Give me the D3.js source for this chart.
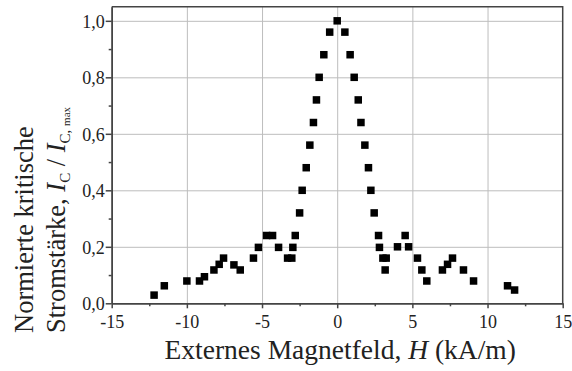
<!DOCTYPE html>
<html>
<head>
<meta charset="utf-8">
<script src="https://cdn.jsdelivr.net/npm/d3@7"></script>
<style>
  body { margin: 0; background: #fff; }
  svg text { font-family: "Liberation Serif", "DejaVu Serif", serif; fill: #222; }
  .grid line { stroke: #bdbdbd; stroke-width: 1; }
  .grid path { display: none; }
  .axis path, .axis line { stroke: #444; stroke-width: 1.5; }
</style>
</head>
<body>
<script>
// Feld H (kA/m) und normierte Stromstärke Ic/Ic,max
const fieldH = [
  -12.18, -11.5, -10.0, -9.16, -8.83, -8.2, -7.85, -7.56, -6.87, -6.45,
  -5.57, -5.24, -4.70, -4.30, -3.9, -3.3, -3.02, -2.95, -2.79, -2.5,
  -2.33, -2.06, -1.82, -1.58, -1.38, -1.2, -0.89, -0.5, 0.0, 0.51,
  0.86, 1.13, 1.4, 1.58, 1.84, 2.08, 2.24, 2.46, 2.75, 2.81,
  3.04, 3.26, 3.19, 4.01, 4.52, 4.75, 5.34, 5.63, 5.96, 7.0,
  7.34, 7.67, 8.4, 9.07, 11.33, 11.8
];
const currentNorm = [
  0.029, 0.062, 0.079, 0.079, 0.094, 0.118, 0.138, 0.16, 0.136, 0.118,
  0.16, 0.198, 0.24, 0.24, 0.198, 0.16, 0.16, 0.198, 0.24, 0.32,
  0.40, 0.48, 0.56, 0.64, 0.72, 0.80, 0.88, 0.96, 1.0, 0.96,
  0.88, 0.80, 0.72, 0.64, 0.56, 0.48, 0.40, 0.32, 0.24, 0.198,
  0.16, 0.16, 0.118, 0.20, 0.24, 0.20, 0.16, 0.118, 0.079, 0.118,
  0.138, 0.16, 0.118, 0.079, 0.062, 0.047
];
const xTicks = [-15, -10, -5, 0, 5, 10, 15];
const yTicks = [0, 0.2, 0.4, 0.6, 0.8, 1.0];

const SIZE_X = 572;
const SIZE_Y = 371;
const FONT = "Liberation Serif";
const margin = {top: 6.7, right: 9.3, bottom: 67.7, left: 111.7},
    width  = SIZE_X - margin.left - margin.right,
    height = SIZE_Y - margin.top - margin.bottom;

const data = fieldH.map((h, i) => ({h: h, ic: currentNorm[i]}));

const x = d3.scaleLinear()
    .domain([-15, 15])
    .range([0, width]);

const y = d3.scaleLinear()
    .domain([0, 1.05])
    .range([height, 0]);

const commaFmt = d => d3.format(".1f")(d).replace(".", ",");

const svg = d3.select("body").append("svg")
    .attr("width", SIZE_X)
    .attr("height", SIZE_Y)
    .append("g")
    .attr("transform", `translate(${margin.left},${margin.top})`);

// Gitterlinien
svg.append("g")
    .attr("class", "grid")
    .attr("transform", `translate(0,${height})`)
    .call(d3.axisBottom(x).tickValues(xTicks.slice(1, -1)).tickSize(-height).tickFormat(""));
svg.append("g")
    .attr("class", "grid")
    .call(d3.axisLeft(y).tickValues(yTicks.slice(1)).tickSize(-width).tickFormat(""));

// Rahmen oben und rechts
svg.append("path")
    .attr("d", `M0,0H${width}V${height}`)
    .attr("fill", "none")
    .attr("stroke", "#444")
    .attr("stroke-width", 1.5);

// x-Achse
const xAxis = svg.append("g")
    .attr("class", "axis")
    .attr("transform", `translate(0,${height})`)
    .call(d3.axisBottom(x).tickValues(xTicks).tickSize(5).tickSizeOuter(0).tickFormat(d => String(d)))
    .attr("font-family", FONT);
svg.append("g")
    .attr("class", "axis")
    .attr("transform", `translate(0,${height})`)
    .call(d3.axisBottom(x).tickValues(d3.range(-12.5, 15, 5)).tickSize(3).tickSizeOuter(0).tickFormat(""));
xAxis.selectAll("text")
    .attr("font-size", 18)
    .attr("dy", "0.95em");

// y-Achse
const yAxis = svg.append("g")
    .attr("class", "axis")
    .call(d3.axisLeft(y).tickValues(yTicks).tickSize(6).tickSizeOuter(0).tickFormat(commaFmt))
    .attr("font-family", FONT);
svg.append("g")
    .attr("class", "axis")
    .call(d3.axisLeft(y).tickValues(d3.range(0.1, 1.0, 0.2)).tickSize(3).tickSizeOuter(0).tickFormat(""));
yAxis.selectAll("text")
    .attr("font-size", 18)
    .attr("x", -7)
    .attr("dy", "0.35em");
svg.selectAll(".axis .domain").attr("stroke-width", 2);

// Messpunkte
const sq = 7.5;
svg.selectAll(".pt")
    .data(data)
    .enter().append("rect")
    .attr("class", "pt")
    .attr("x", d => x(d.h) - sq / 2)
    .attr("y", d => y(d.ic) - sq / 2)
    .attr("width", sq)
    .attr("height", sq)
    .attr("fill", "#000");

// Achsentitel
const xl = svg.append("text")
    .attr("x", width / 2 + 3)
    .attr("y", height + 56)
    .attr("text-anchor", "middle")
    .attr("font-family", FONT)
    .attr("font-size", 27.5);
xl.append("tspan").text("Externes Magnetfeld, ");
xl.append("tspan").attr("font-style", "italic").text("H");
xl.append("tspan").text(" (kA/m)");

const yl = svg.append("g")
    .attr("transform", `translate(${33 - margin.left},${333 - margin.top}) rotate(-90)`)
    .attr("font-family", FONT);
yl.append("text")
    .attr("font-size", 26.5)
    .text("Normierte kritische");
const l2 = yl.append("text")
    .attr("y", 32)
    .attr("font-size", 26.5);
l2.append("tspan").text("Stromstärke, ");
l2.append("tspan").attr("font-style", "italic").text("I");
l2.append("tspan").attr("font-size", 15).attr("dy", 5).text("C");
l2.append("tspan").attr("dy", -5).text(" / ");
l2.append("tspan").attr("font-style", "italic").text("I");
l2.append("tspan").attr("font-size", 15).attr("dy", 5).text("C, ");
l2.append("tspan").attr("font-size", 11).text("max");
</script>
</body>
</html>
